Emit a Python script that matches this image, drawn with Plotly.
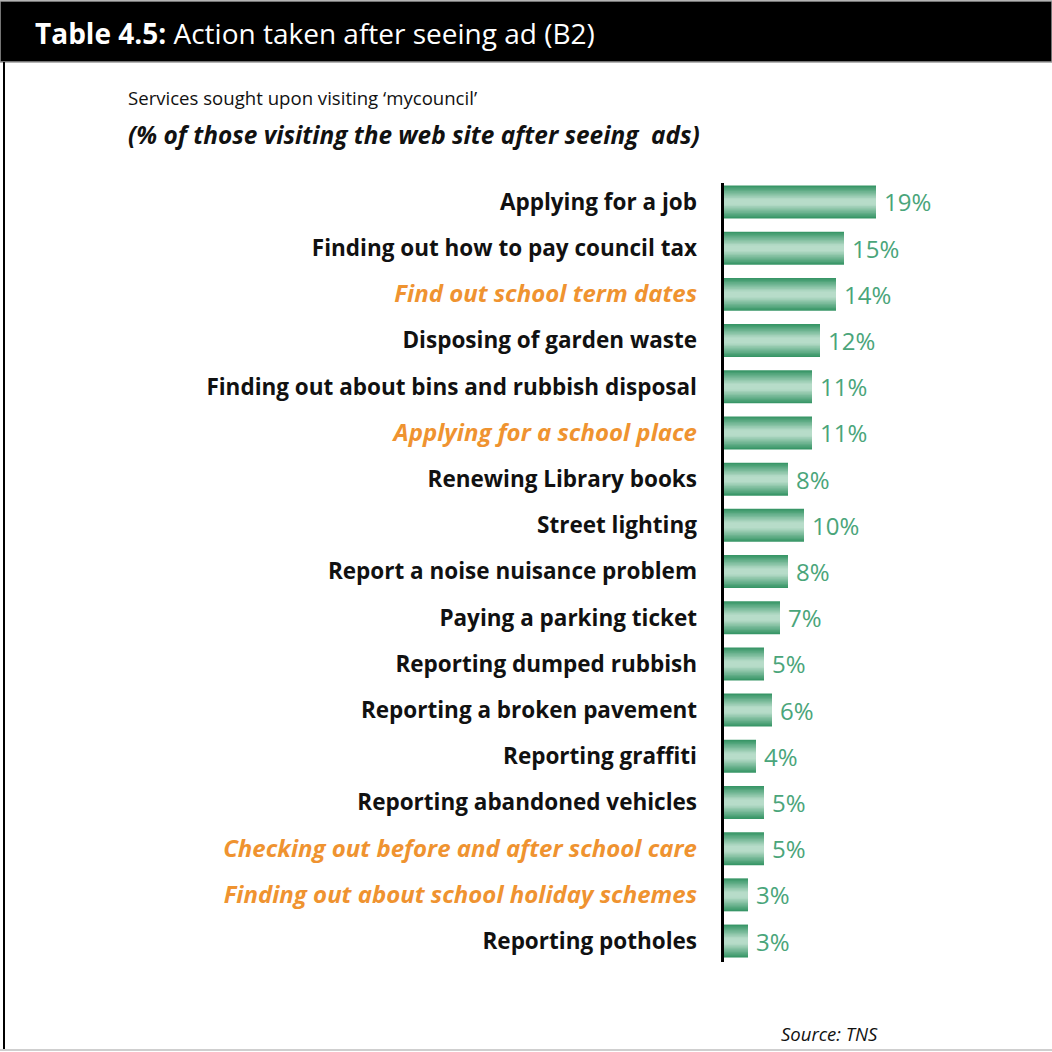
import plotly.graph_objects as go

# Services sought, top to bottom, with share of visitors (%)
categories = [
    "Applying for a job",
    "Finding out how to pay council tax",
    "Find out school term dates",
    "Disposing of garden waste",
    "Finding out about bins and rubbish disposal",
    "Applying for a school place",
    "Renewing Library books",
    "Street lighting",
    "Report a noise nuisance problem",
    "Paying a parking ticket",
    "Reporting dumped rubbish",
    "Reporting a broken pavement",
    "Reporting graffiti",
    "Reporting abandoned vehicles",
    "Checking out before and after school care",
    "Finding out about school holiday schemes",
    "Reporting potholes",
]
values = [19, 15, 14, 12, 11, 11, 8, 10, 8, 7, 5, 6, 4, 5, 5, 3, 3]
# school-related services are highlighted
school_related = [False, False, True, False, False, True, False, False, False,
                  False, False, False, False, False, True, True, False]

W = H = 1052
FONT = "Open Sans"
DARK = (56, 150, 103)
LIGHT = (183, 220, 201)
LABEL_GREEN = "#4aa57a"
ORANGE = "#ef9330"


def px(x):
    return x / W


def py(y):
    return 1 - y / H


idx = list(range(len(categories)))

fig = go.Figure()

# Horizontal-striped gradient: overlay successively thinner, lighter bars
n_layers = 12
bar_w = 0.714
for k in range(n_layers):
    t = min(1.0, k / (n_layers * 0.8))
    r, g, b = [round(d + (l - d) * t) for d, l in zip(DARK, LIGHT)]
    fig.add_trace(go.Bar(
        x=values, y=idx, orientation="h",
        width=bar_w * (1 - k / n_layers),
        marker=dict(color=f"rgb({r},{g},{b})", line=dict(width=0)),
        hoverinfo="skip", showlegend=False,
    ))

ticktext = []
for c, s in zip(categories, school_related):
    if s:
        ticktext.append(
            f"<b><i><span style='color:{ORANGE};font-size:24px'>{c}</span></i></b>")
    else:
        ticktext.append(f"<b>{c}</b>")

annotations = []
for i, v in enumerate(values):
    annotations.append(dict(
        x=v, y=i, xref="x", yref="y", text=f"{v}%", showarrow=False,
        xanchor="left", yanchor="middle", xshift=6,
        font=dict(family=FONT, size=24, color=LABEL_GREEN),
    ))

# Header and notes
annotations += [
    dict(x=px(33), y=py(33), xref="paper", yref="paper", showarrow=False,
         xanchor="left", yanchor="middle",
         text="<b>Table 4.5:</b> Action taken after seeing ad (B2)",
         font=dict(family=FONT, size=28, color="white")),
    dict(x=px(126), y=py(98), xref="paper", yref="paper", showarrow=False,
         xanchor="left", yanchor="middle",
         text="Services sought upon visiting \u2018mycouncil\u2019",
         font=dict(family=FONT, size=18.6, color="#111")),
    dict(x=px(126), y=py(134), xref="paper", yref="paper", showarrow=False,
         xanchor="left", yanchor="middle",
         text="<b><i>(% of those visiting the web site after seeing  ads)</i></b>",
         font=dict(family=FONT, size=24.4, color="#111")),
    dict(x=px(880), y=py(1033), xref="paper", yref="paper", showarrow=False,
         xanchor="right", yanchor="middle",
         text="<i>Source: TNS</i>",
         font=dict(family=FONT, size=18.5, color="#111")),
]

shapes = [
    # black header bar
    dict(type="rect", xref="paper", yref="paper", x0=0, x1=1, y0=py(62), y1=py(1),
         fillcolor="black", line=dict(color="#9a9a9a", width=1.5)),
    # frame: left and bottom edges
    dict(type="line", xref="paper", yref="paper", x0=px(4), x1=px(4),
         y0=py(62), y1=py(1049), line=dict(color="black", width=2)),
    dict(type="line", xref="paper", yref="paper", x0=0, x1=1,
         y0=py(1050), y1=py(1050), line=dict(color="#cfcfcf", width=2)),
    # category axis line
    dict(type="line", xref="paper", yref="paper", x0=px(722.5), x1=px(722.5),
         y0=py(183), y1=py(962), line=dict(color="black", width=3)),
]

spacing = 46.19
top_px, bot_px = 160, 1000
fig.update_layout(
    width=W, height=H,
    margin=dict(l=0, r=0, t=0, b=0),
    paper_bgcolor="white", plot_bgcolor="white",
    barmode="overlay",
    showlegend=False,
    annotations=annotations,
    shapes=shapes,
    xaxis=dict(domain=[px(724), 1], range=[0, (W - 724) / 8.0],
               visible=False, fixedrange=True),
    yaxis=dict(domain=[py(bot_px), py(top_px)],
               range=[(bot_px - 202) / spacing, (top_px - 202) / spacing],
               tickvals=idx, ticktext=ticktext, ticks="",
               showline=False, showgrid=False, zeroline=False,
               ticklabelstandoff=26,
               tickfont=dict(family=FONT, size=22.5, color="#111")),
)

fig.write_html("out.html")
